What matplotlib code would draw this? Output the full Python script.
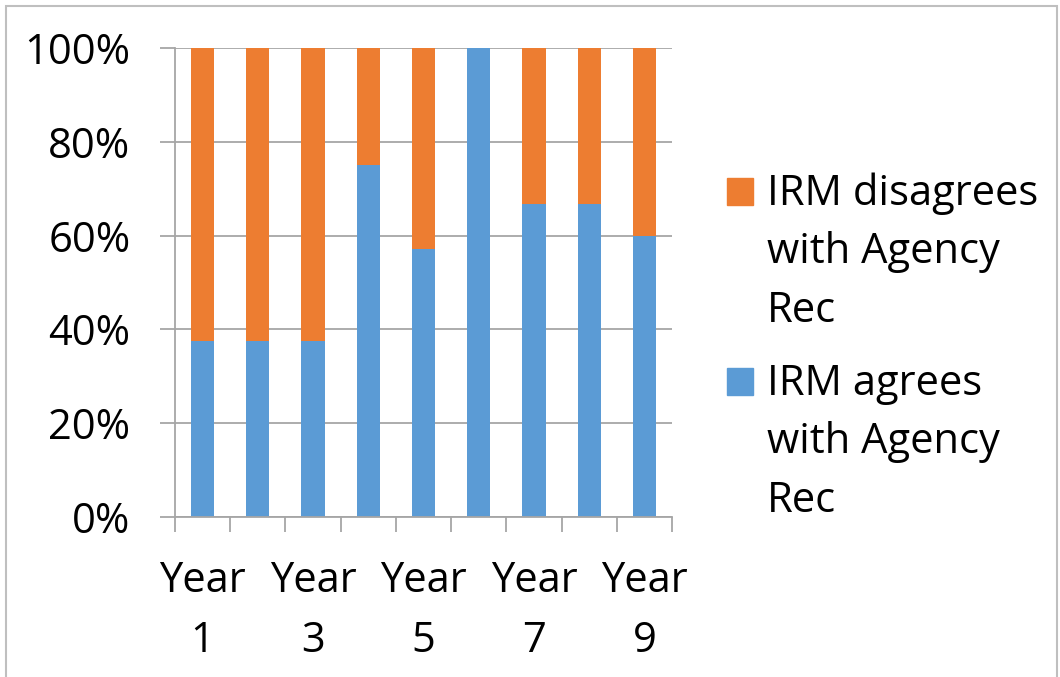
import matplotlib.pyplot as plt
from matplotlib.patches import Rectangle
from matplotlib.ticker import FixedLocator, PercentFormatter

plt.rcParams['font.family'] = ['Open Sans', 'DejaVu Sans']

years = [f"Year\n{i}" for i in range(1, 10)]
agrees = [37.5, 37.5, 37.5, 75.0, 57.1, 100.0, 66.7, 66.7, 60.0]
disagrees = [100 - a for a in agrees]
series_names = ["IRM disagrees\nwith Agency\nRec", "IRM agrees\nwith Agency\nRec"]

BLUE = "#5B9BD5"
ORANGE = "#ED7D31"
GRID = "#A6A6A6"
FS = 30

W, H = 1060, 677
fig = plt.figure(figsize=(W / 100, H / 100), dpi=100)
ax = fig.add_axes([175 / W, 1 - 517 / H, (672 - 175) / W, (517 - 48) / H])

x = list(range(len(years)))
ax.bar(x, agrees, width=0.42, color=BLUE, zorder=2)
ax.bar(x, disagrees, width=0.42, bottom=agrees, color=ORANGE, zorder=2)

ax.set_xlim(-0.5, len(years) - 0.5)
ax.set_ylim(0, 100)
ax.set_yticks(range(0, 101, 20))
ax.yaxis.set_major_formatter(PercentFormatter(decimals=0))
ax.grid(axis="y", color=GRID, lw=1.3, zorder=0)

# labels on every other year, tick marks at category boundaries
ax.set_xticks(x[::2])
ax.set_xticklabels(years[::2], linespacing=1.56)
ax.xaxis.set_minor_locator(FixedLocator([i - 0.5 for i in range(len(years) + 1)]))
ax.tick_params(axis="x", which="major", length=0, pad=31)
ax.tick_params(axis="x", which="minor", length=11, width=1.3, color=GRID, direction="out")
ax.tick_params(axis="y", length=11, width=1.3, color=GRID, direction="out", pad=21)
ax.tick_params(labelsize=FS)

for s in ("top", "right"):
    ax.spines[s].set_visible(False)
for s in ("left", "bottom"):
    ax.spines[s].set_color(GRID)
    ax.spines[s].set_linewidth(1.3)

# legend drawn by hand so the swatch sits beside the first text line
# (baseline alignment of multi-line text uses the last line, hence the +117)
for (name, col, base) in zip(series_names, [ORANGE, BLUE], [205, 395]):
    fig.add_artist(Rectangle((727 / W, 1 - base / H), 26 / W, 27 / H,
                             transform=fig.transFigure, color=col))
    fig.text(767 / W, 1 - (base + 117) / H, name, fontsize=FS, va="baseline", ha="left",
             linespacing=1.52)

fig.add_artist(Rectangle((6 / W, -0.1), (1057 - 6) / W, 1.1 - 6 / H, transform=fig.transFigure,
                         fill=False, ec="#BFBFBF", lw=1.5))

fig.savefig("out.png", dpi=100)
